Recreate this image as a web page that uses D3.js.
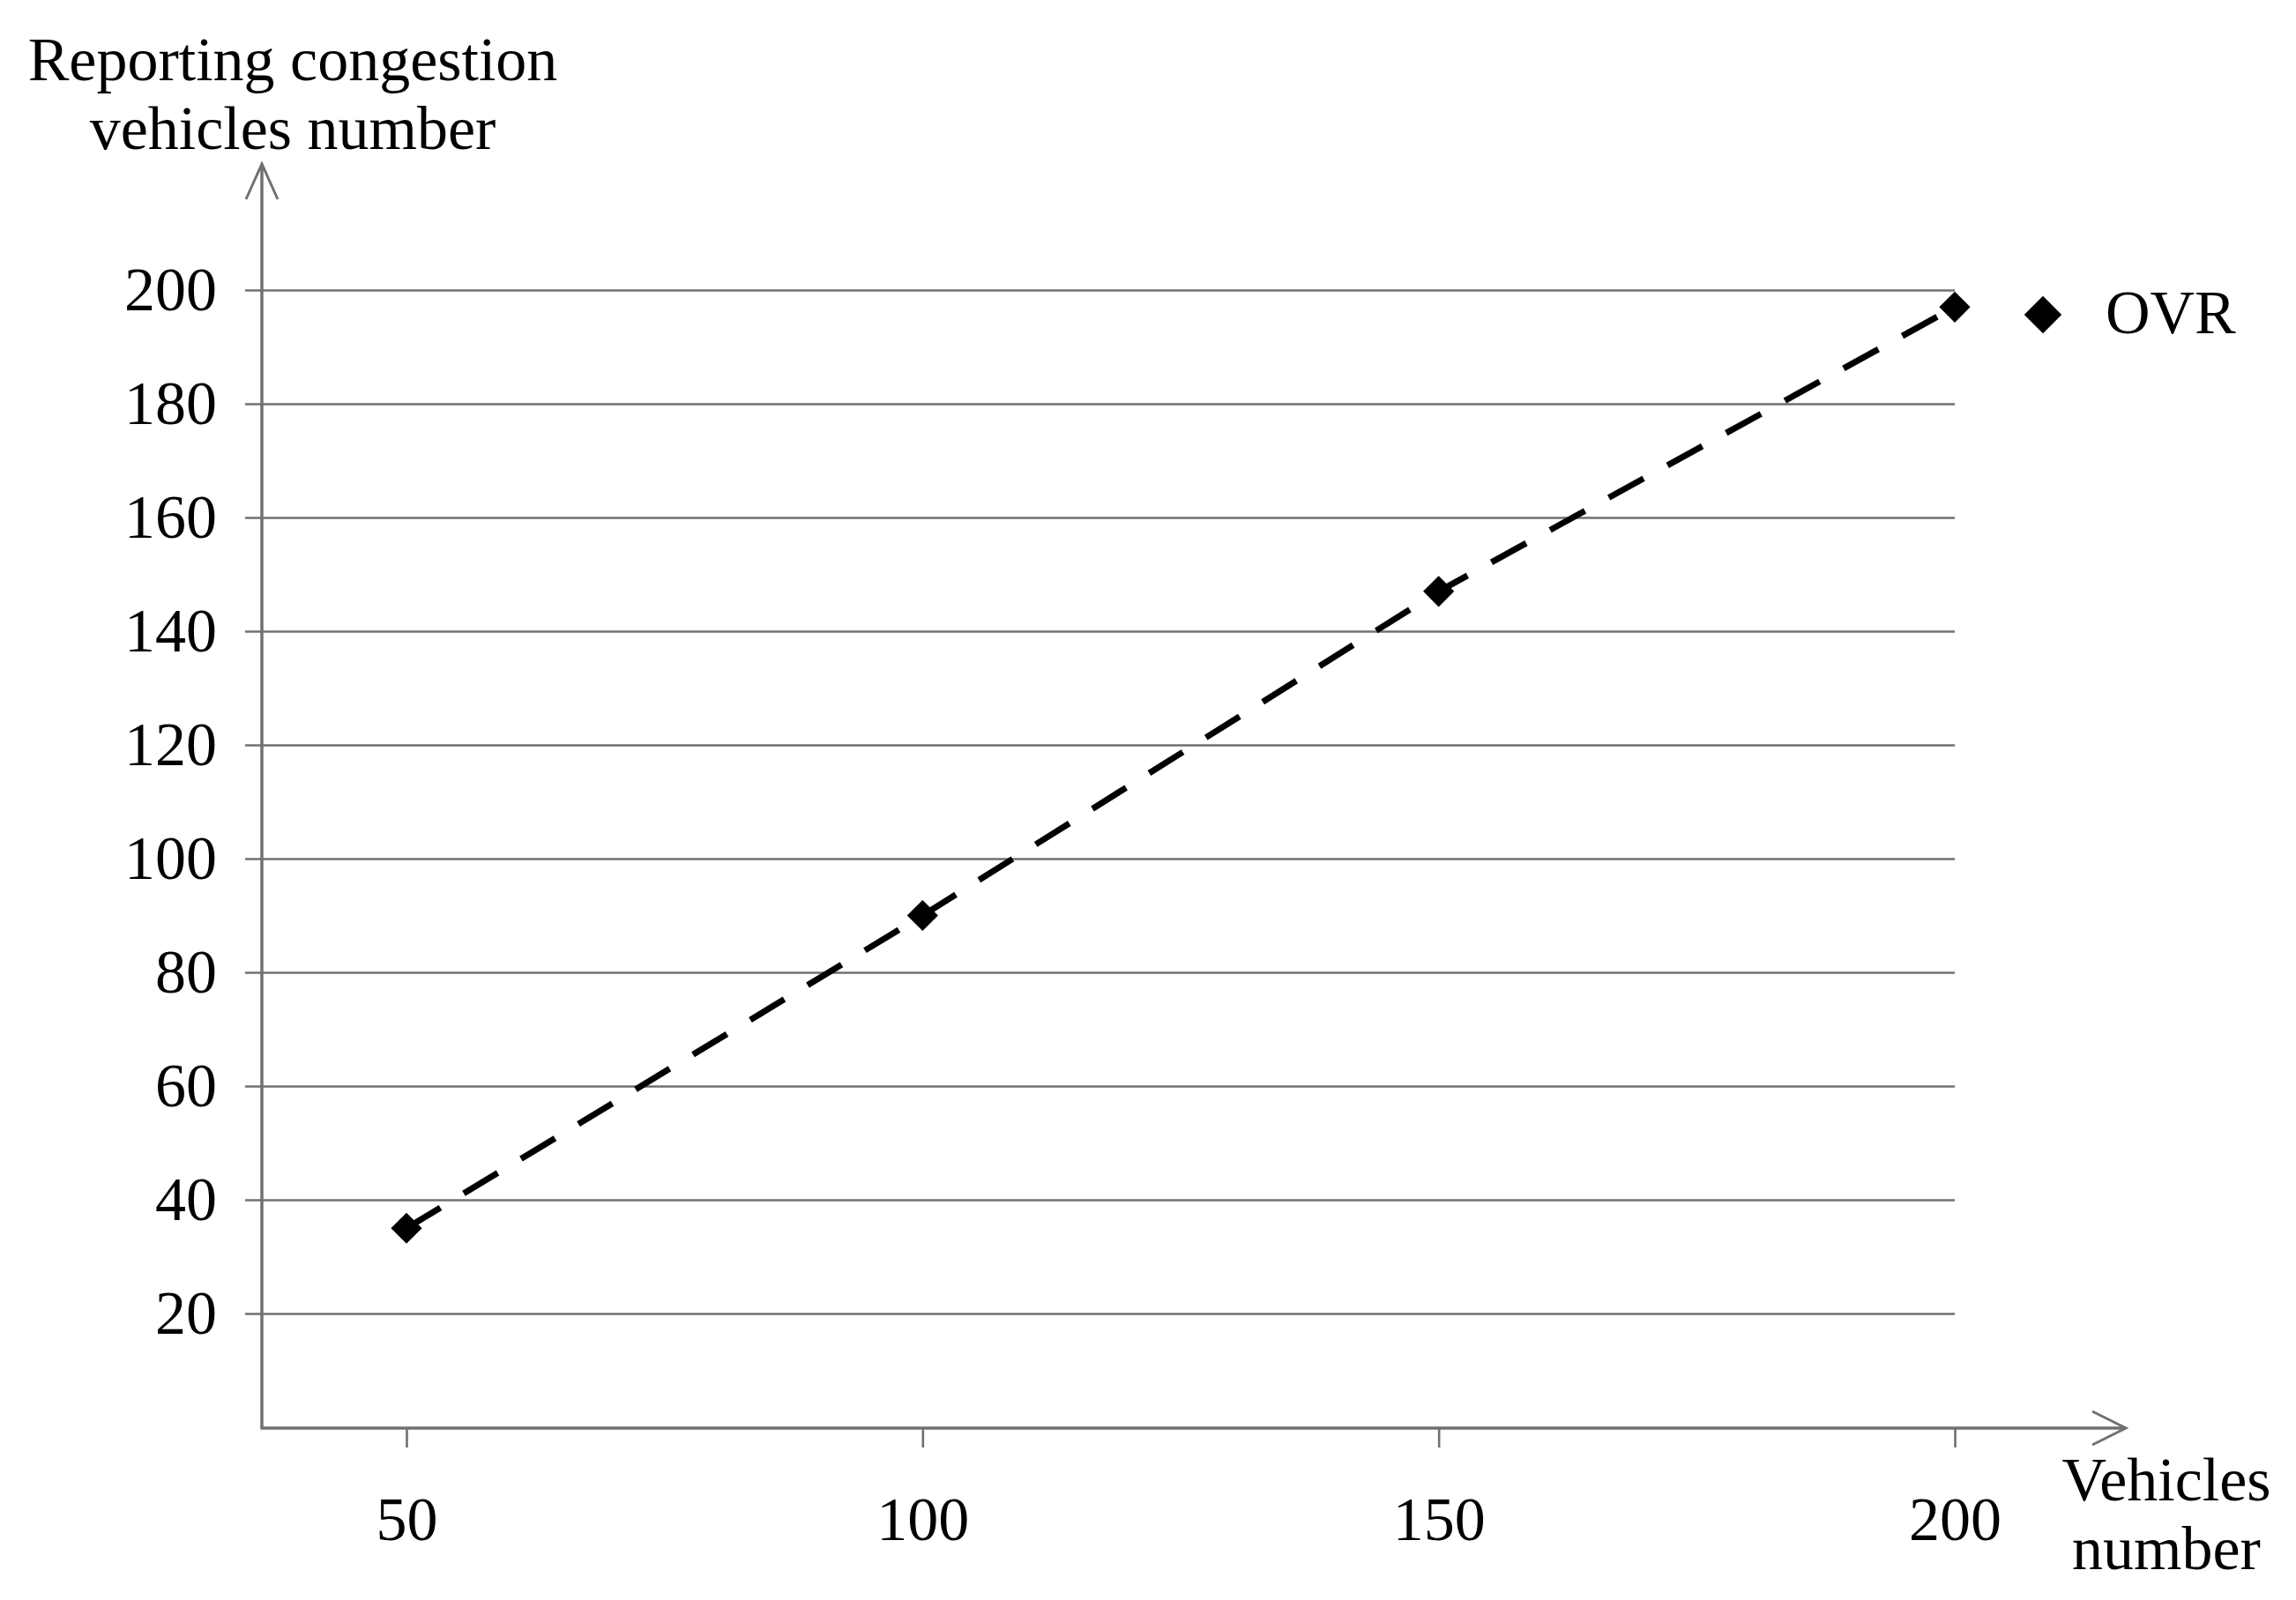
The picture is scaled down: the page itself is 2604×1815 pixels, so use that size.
<!DOCTYPE html>
<html>
<head>
<meta charset="utf-8">
<title>OVR</title>
<script src="https://d3js.org/d3.v7.min.js"></script>
<style>
  body { margin: 0; background: #fff; }
  text { font-family: "Liberation Serif", "Times New Roman", serif; fill: #000; }
</style>
</head>
<body>
<script>

// data
var vehicles = [50, 100, 150, 200];
var reporting = [35, 90, 147, 197];
var xTicks = [50, 100, 150, 200];
var yTicks = [20, 40, 60, 80, 100, 120, 140, 160, 180, 200];
var seriesName = "OVR";

var W = 2604, H = 1815;
var fontSize = 70;
var grey = "#707070";

var svg = d3.select("body").append("svg")
	.attr("width", W)
	.attr("height", H);

var x = d3.scaleLinear()
	.domain([50, 200])
	.range([461, 2217]);

var y = d3.scaleLinear()
	.domain([0, 200])
	.range([1619, 329]);

var originX = 297, originY = 1620;

// y gridlines + labels (axisLeft placed at the right end, long ticks)
var gridLeft = 278;
var gy = svg.append("g")
	.attr("transform", "translate(" + x(200) + ",0)")
	.call(d3.axisLeft(y)
		.tickValues(yTicks)
		.tickSize(x(200) - gridLeft)
		.tickPadding(32));
gy.select(".domain").remove();
gy.selectAll(".tick line").attr("stroke", grey).attr("stroke-width", 2.6);
gy.selectAll(".tick text")
	.style("font-size", fontSize + "px")
	.attr("fill", "#000");

// x ticks + labels
var gx = svg.append("g")
	.attr("transform", "translate(0," + originY + ")")
	.call(d3.axisBottom(x)
		.tickValues(xTicks)
		.tickSize(22)
		.tickPadding(55));
gx.select(".domain").remove();
gx.selectAll(".tick line").attr("stroke", grey).attr("stroke-width", 2.6);
gx.selectAll(".tick text")
	.style("font-size", fontSize + "px")
	.attr("fill", "#000");

// axis lines with open arrow heads
var axisTop = 186, axisRight = 2411;
svg.append("line")
	.attr("x1", originX).attr("y1", originY)
	.attr("x2", originX).attr("y2", axisTop)
	.attr("stroke", grey).attr("stroke-width", 3.5);
svg.append("line")
	.attr("x1", originX - 1.5).attr("y1", originY)
	.attr("x2", axisRight).attr("y2", originY)
	.attr("stroke", grey).attr("stroke-width", 3.5);

svg.append("path")
	.attr("d", "M" + (originX - 18) + "," + (axisTop + 40) + "L" + originX + "," + axisTop + "L" + (originX + 18) + "," + (axisTop + 40))
	.attr("fill", "none").attr("stroke", grey).attr("stroke-width", 3);
svg.append("path")
	.attr("d", "M" + (axisRight - 38) + "," + (originY - 19) + "L" + axisRight + "," + originY + "L" + (axisRight - 38) + "," + (originY + 19))
	.attr("fill", "none").attr("stroke", grey).attr("stroke-width", 3);

// dashed series line
var pts = vehicles.map(function(v, i) { return [v, reporting[i]]; });
var line = d3.line()
	.x(function(d) { return x(d[0]); })
	.y(function(d) { return y(d[1]); });

svg.append("path")
	.datum(pts)
	.attr("d", line)
	.attr("fill", "none")
	.attr("stroke", "#000")
	.attr("stroke-width", 7)
	.attr("stroke-dasharray", "45,31");

// diamond markers
var diamond = d3.symbol().type(d3.symbolSquare).size(620);
svg.selectAll(".pt")
	.data(pts)
	.enter()
	.append("path")
	.attr("class", "pt")
	.attr("d", diamond)
	.attr("transform", function(d) { return "translate(" + x(d[0]) + "," + y(d[1]) + ") rotate(45)"; })
	.attr("fill", "#000");

// legend
svg.append("path")
	.attr("d", d3.symbol().type(d3.symbolSquare).size(900))
	.attr("transform", "translate(2317,357) rotate(45)")
	.attr("fill", "#000");
svg.append("text")
	.attr("x", 2388).attr("y", 378)
	.style("font-size", fontSize + "px")
	.text(seriesName);

// axis titles
var yTitle = svg.append("text")
	.attr("text-anchor", "middle")
	.style("font-size", fontSize + "px");
yTitle.append("tspan").attr("x", 332).attr("y", 91).text("Reporting congestion");
yTitle.append("tspan").attr("x", 332).attr("y", 169).text("vehicles number");

var xTitle = svg.append("text")
	.attr("text-anchor", "middle")
	.style("font-size", fontSize + "px");
xTitle.append("tspan").attr("x", 2457).attr("y", 1702).text("Vehicles");
xTitle.append("tspan").attr("x", 2457).attr("y", 1780).text("number");

</script>
</body>
</html>
